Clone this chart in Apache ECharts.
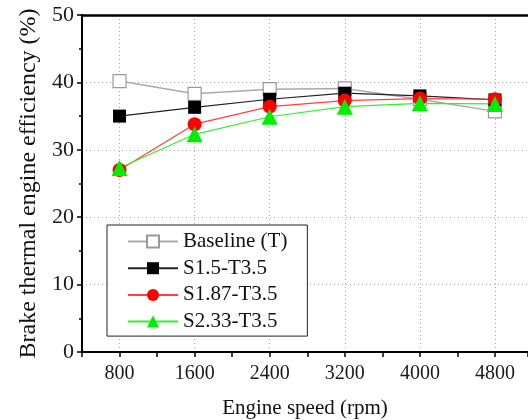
<!DOCTYPE html>
<html>
<head>
<meta charset="utf-8">
<script src="https://cdn.jsdelivr.net/npm/echarts@6/dist/echarts.min.js"></script>
<style>
  html, body { margin: 0; padding: 0; background: #fff; }
  #main { width: 528px; height: 420px; }
</style>
</head>
<body>
<div id="main"></div>
<script>
// engine speed (rpm)
var speeds = [800, 1600, 2400, 3200, 4000, 4800];
// brake thermal efficiency (%)
var baseline = [40.2, 38.3, 39.0, 39.1, 37.5, 35.7];
var s15 = [35.0, 36.3, 37.5, 38.4, 38.0, 37.4];
var s187 = [27.0, 33.8, 36.4, 37.3, 37.6, 37.5];
var s233 = [27.3, 32.3, 34.9, 36.4, 36.9, 36.8];
var yTicks = [0, 10, 20, 30, 40, 50];

var serif = 'Liberation Serif';
var xMin = 400, xMax = 5152;

function pairs(vals) {
    var out = [];
    for (var i = 0; i < speeds.length; i++) {
        out.push([speeds[i], vals[i]]);
    }
    return out;
}

var chart = echarts.init(document.getElementById('main'));

chart.setOption({
    animation: false,
    backgroundColor: '#fff',
    grid: {
        left: 82,
        top: 15,
        right: 0,
        height: 337,
        containLabel: false,
        outerBoundsMode: 'none'
    },
    legend: {
        orient: 'vertical',
        left: 107,
        top: 225,
        padding: [6, 20, 4, 20],
        itemGap: 5.7,
        itemWidth: 50,
        itemHeight: 15,
        borderColor: '#222',
        borderWidth: 1,
        backgroundColor: '#fff',
        textStyle: { fontFamily: serif, fontSize: 21, color: '#111' },
        data: ['Baseline (T)', 'S1.5-T3.5', 'S1.87-T3.5', 'S2.33-T3.5']
    },
    xAxis: [{
        type: 'value',
        min: xMin,
        max: xMax,
        interval: 400,
        name: 'Engine speed (rpm)',
        nameLocation: 'middle',
        nameGap: 46,
        nameTextStyle: { fontFamily: serif, fontSize: 21, color: '#111' },
        axisLine: { lineStyle: { color: '#000', width: 2 } },
        axisTick: { inside: false, length: 5, lineStyle: { color: '#000', width: 1.5 } },
        axisLabel: {
            margin: 12,
            fontFamily: serif,
            fontSize: 20,
            color: '#1a1a1a',
            formatter: function(v) {
                return (v % 800 === 0 && v <= 4800) ? String(v) : '';
            }
        },
        splitLine: {
            show: true,
            lineStyle: { color: ['rgba(0,0,0,0)', '#aaa'], type: [1, 3], width: 1 }
        }
    }, {
        // top frame line
        type: 'value',
        position: 'top',
        min: xMin,
        max: xMax,
        axisLine: { show: true, lineStyle: { color: '#000', width: 2.5 } },
        axisTick: { show: false },
        axisLabel: { show: false },
        splitLine: { show: false }
    }],
    yAxis: {
        type: 'value',
        min: 0,
        max: 50,
        interval: 10,
        name: 'Brake thermal engine efficiency (%)',
        nameLocation: 'middle',
        nameGap: 40,
        nameTextStyle: { fontFamily: serif, fontSize: 24, color: '#111' },
        axisLine: { show: true, lineStyle: { color: '#000', width: 2 } },
        axisTick: { show: true, inside: false, length: 5, lineStyle: { color: '#000', width: 1.5 } },
        minorTick: { show: true, splitNumber: 2, length: 3, lineStyle: { color: '#000', width: 1.5 } },
        axisLabel: {
            margin: 8,
            fontFamily: serif,
            fontSize: 22,
            color: '#1a1a1a',
            customValues: yTicks
        },
        splitLine: {
            show: true,
            lineStyle: { color: '#aaa', type: [1, 3], width: 1 }
        }
    },
    series: [{
        name: 'Baseline (T)',
        type: 'line',
        data: pairs(baseline),
        symbol: 'rect',
        symbolSize: 13,
        lineStyle: { color: '#aaa', width: 1.5 },
        itemStyle: { color: '#fff', borderColor: '#999', borderWidth: 1.2 }
    }, {
        name: 'S1.5-T3.5',
        type: 'line',
        data: pairs(s15),
        symbol: 'rect',
        symbolSize: 13,
        lineStyle: { color: '#222', width: 1.2 },
        itemStyle: { color: '#000' }
    }, {
        name: 'S1.87-T3.5',
        type: 'line',
        data: pairs(s187),
        symbol: 'circle',
        symbolSize: 14,
        lineStyle: { color: '#ff4040', width: 1.2 },
        itemStyle: { color: '#ff0000' }
    }, {
        name: 'S2.33-T3.5',
        type: 'line',
        data: pairs(s233),
        symbol: 'triangle',
        symbolSize: 16,
        lineStyle: { color: '#33ee33', width: 1.2 },
        itemStyle: { color: '#00ee00' }
    }]
});
</script>
</body>
</html>
